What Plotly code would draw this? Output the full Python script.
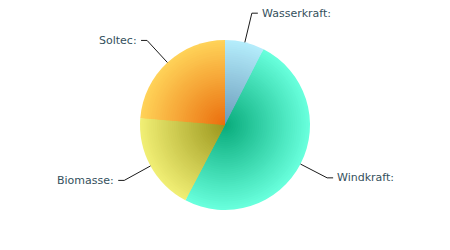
import math
import plotly.graph_objects as go

labels = ["Wasserkraft:", "Windkraft:", "Biomasse:", "Soltec:"]
values = [7.5, 50.2, 18.6, 23.7]
outer_colors = ["#b4ecfb", "#68ffdc", "#f0ee74", "#ffd258"]
inner_colors = ["#6898b8", "#08aa7a", "#9a961c", "#ea6c0c"]

W, H = 450, 250
CX, CY = 225, 125   # pixel centre
R = 85              # pixel radius
N = 40


def hex2rgb(h):
    h = h.lstrip("#")
    return tuple(int(h[i:i + 2], 16) for i in (0, 2, 4))


def mix(c1, c2, t):
    a, b = hex2rgb(c1), hex2rgb(c2)
    return "rgb(%d,%d,%d)" % tuple(round(a[i] + (b[i] - a[i]) * t) for i in range(3))


fig = go.Figure()
for i in range(N):
    r = 1 - i / N
    cols = [mix(o, n, 1 - r) for o, n in zip(outer_colors, inner_colors)]
    rx = R * r / W
    ry = R * r / H
    fig.add_trace(go.Pie(
        labels=labels, values=values, sort=False, direction="clockwise",
        rotation=0, marker=dict(colors=cols, line=dict(width=0)),
        textinfo="none", hoverinfo="skip",
        domain=dict(x=[0.5 - rx, 0.5 + rx], y=[0.5 - ry, 0.5 + ry]),
    ))

shapes, annotations = [], []
total = sum(values)
cum = 0
for lab, v in zip(labels, values):
    mid = (cum + v / 2) / total * 2 * math.pi
    cum += v
    sx, sy = math.sin(mid), -math.cos(mid)
    p0 = (CX + R * sx, CY + R * sy)
    p1 = (CX + 115 * sx, CY + 115 * sy)
    side = 1 if sx >= 0 else -1
    p2 = (p1[0] + 6 * side, p1[1])

    def px(p):
        return p[0] / W, 1 - p[1] / H

    a, b, c = px(p0), px(p1), px(p2)
    shapes.append(dict(type="path", xref="paper", yref="paper",
                       path="M %f %f L %f %f L %f %f" % (a[0], a[1], b[0], b[1], c[0], c[1]),
                       line=dict(color="#1a1a1a", width=1)))
    annotations.append(dict(x=c[0] + side * 2 / W, y=c[1], xref="paper", yref="paper",
                            text=lab, showarrow=False,
                            xanchor="left" if side > 0 else "right", yanchor="middle",
                            font=dict(family="DejaVu Sans", size=11, color="#34505c")))

fig.update_layout(width=W, height=H, margin=dict(l=0, r=0, t=0, b=0),
                  paper_bgcolor="white", plot_bgcolor="white", showlegend=False,
                  shapes=shapes, annotations=annotations)
fig.write_html("out.html")
